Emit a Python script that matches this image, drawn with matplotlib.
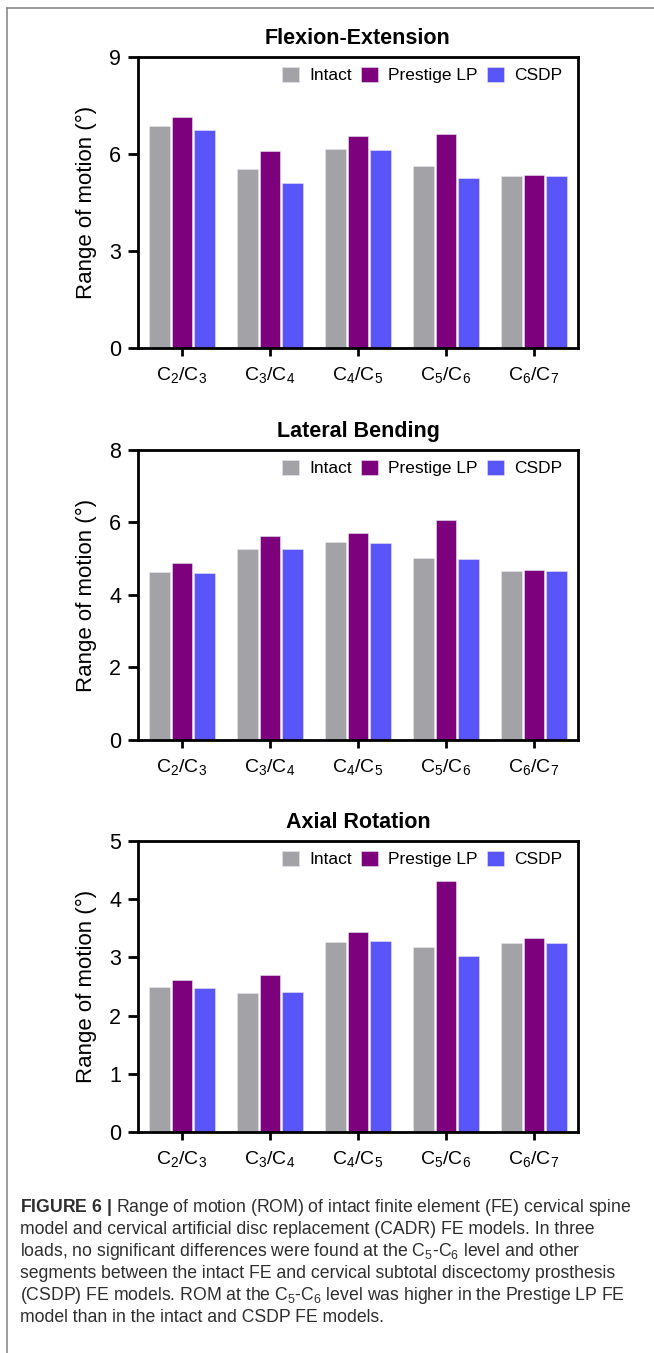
import matplotlib
matplotlib.use("Agg")
import matplotlib.pyplot as plt
import numpy as np
from matplotlib.lines import Line2D

plt.rcParams["font.family"] = ["Liberation Sans", "DejaVu Sans"]
plt.rcParams["mathtext.fontset"] = "custom"
plt.rcParams["mathtext.rm"] = "Liberation Sans"
plt.rcParams["mathtext.it"] = "Liberation Sans:italic"
plt.rcParams["mathtext.bf"] = "Liberation Sans:bold"

# ---------------------------------------------------------------------
# Data
# ---------------------------------------------------------------------
LEVELS = ["C$_2$/C$_3$", "C$_3$/C$_4$", "C$_4$/C$_5$", "C$_5$/C$_6$", "C$_6$/C$_7$"]
MODELS = ["Intact", "Prestige LP", "CSDP"]
COLORS = ["#A3A2A7", "#7D007D", "#5A55F8"]

FE_INTACT = [6.86, 5.53, 6.17, 5.62, 5.33]
FE_PRESTIGE = [7.13, 6.10, 6.56, 6.62, 5.35]
FE_CSDP = [6.73, 5.10, 6.12, 5.25, 5.32]

LB_INTACT = [4.64, 5.28, 5.47, 5.01, 4.67]
LB_PRESTIGE = [4.89, 5.63, 5.72, 6.08, 4.68]
LB_CSDP = [4.61, 5.26, 5.44, 4.98, 4.66]

AR_INTACT = [2.49, 2.39, 3.26, 3.18, 3.25]
AR_PRESTIGE = [2.62, 2.69, 3.44, 4.32, 3.34]
AR_CSDP = [2.48, 2.41, 3.28, 3.02, 3.25]

PANELS = [
    ("Flexion-Extension", [FE_INTACT, FE_PRESTIGE, FE_CSDP], 9, [0, 3, 6, 9]),
    ("Lateral Bending", [LB_INTACT, LB_PRESTIGE, LB_CSDP], 8, [0, 2, 4, 6, 8]),
    ("Axial Rotation", [AR_INTACT, AR_PRESTIGE, AR_CSDP], 5, [0, 1, 2, 3, 4, 5]),
]

CAPTION = [
    r"$\bf{FIGURE\ 6\ |}$ Range of motion (ROM) of intact finite element (FE) cervical spine",
    "model and cervical artificial disc replacement (CADR) FE models. In three",
    "loads, no significant differences were found at the C$_5$-C$_6$ level and other",
    "segments between the intact FE and cervical subtotal discectomy prosthesis",
    "(CSDP) FE models. ROM at the C$_5$-C$_6$ level was higher in the Prestige LP FE",
    "model than in the intact and CSDP FE models.",
]

# ---------------------------------------------------------------------
# Figure
# ---------------------------------------------------------------------
W, H = 654, 1353
fig = plt.figure(figsize=(W / 100, H / 100), dpi=100)

# axes boxes in pixels: (top, bottom)
AX_LEFT, AX_RIGHT = 138, 578
AX_ROWS = [(57, 348), (450, 740), (841, 1132)]

x = np.arange(len(LEVELS))
bar_w = 0.235
offsets = [-0.255, 0.0, 0.255]

for (title, series, ymax, yticks), (top, bot) in zip(PANELS, AX_ROWS):
    ax = fig.add_axes([AX_LEFT / W, 1 - bot / H, (AX_RIGHT - AX_LEFT) / W, (bot - top) / H])
    for vals, off, c, lab in zip(series, offsets, COLORS, MODELS):
        ax.bar(x + off, vals, width=bar_w, color=c, edgecolor="#e6e6f0",
               linewidth=0.4, label=lab, zorder=2)
    ax.set_xlim(-0.5, 4.5)
    ax.set_ylim(0, ymax)
    ax.set_yticks(yticks)
    ax.set_xticks(x)
    ax.set_xticklabels(LEVELS, fontsize=14)
    ax.tick_params(axis="y", labelsize=15.5, direction="out", length=7, width=2, pad=5)
    ax.tick_params(axis="x", direction="out", length=6, width=2, pad=6)
    for s in ax.spines.values():
        s.set_linewidth(2)
    ax.set_ylabel("Range of motion (°)", fontsize=16, labelpad=9)
    ax.set_title(title, fontsize=15.5, fontweight="bold", pad=9)
    ax.legend(loc="upper right", ncol=3, frameon=False, fontsize=12.5,
              handlelength=0.95, handleheight=0.95, handletextpad=0.6,
              columnspacing=0.55, borderaxespad=0.5, bbox_to_anchor=(1.0, 1.02))

# caption
y0 = 1208
for i, line in enumerate(CAPTION):
    fig.text(20 / W, 1 - (y0 + i * 22) / H, line, fontsize=12.7, color="#2e2e2e",
             ha="left", va="center")

# page frame lines (top and left)
fig.add_artist(Line2D([7 / W, 1.0], [1 - 8 / H, 1 - 8 / H], transform=fig.transFigure,
                      color="#8a8a8a", linewidth=1.2))
fig.add_artist(Line2D([7 / W, 7 / W], [1 - 8 / H, 0.0], transform=fig.transFigure,
                      color="#8a8a8a", linewidth=1.2))

fig.savefig("out.png", dpi=100)
